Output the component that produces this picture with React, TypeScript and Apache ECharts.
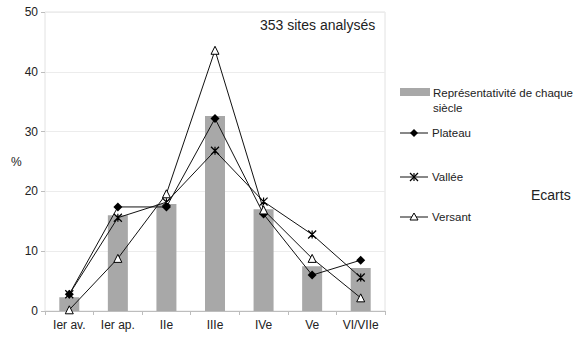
import React, { useEffect, useRef } from "react";
import * as echarts from "echarts";

const categories = ["Ier av.", "Ier ap.", "IIe", "IIIe", "IVe", "Ve", "VI/VIIe"];
const representativite = [2.3, 16.0, 17.9, 32.6, 17.0, 7.5, 7.2];
const plateau = [2.8, 17.4, 17.4, 32.2, 16.2, 6.0, 8.5];
const vallee = [2.8, 15.6, 18.2, 26.8, 18.3, 12.8, 5.6];
const versant = [0.2, 8.8, 19.6, 43.6, 16.9, 8.8, 2.2];
const yTicks = [0, 10, 20, 30, 40, 50];

const FONT = "'Liberation Sans', Arial, sans-serif";
const STAR = "path://M0,0 L10,10 M10,0 L0,10 M5,0 L5,10 M5,10 L5,0 M10,10 L0,0 M0,10 L10,0";

export default function App() {
  const ref = useRef<HTMLDivElement>(null);
  useEffect(() => {
    if (!ref.current) return;
    const chart = echarts.init(ref.current, null, { renderer: "svg" });
    const lineBase = {
      type: "line" as const,
      lineStyle: { color: "#111", width: 1 },
      z: 3,
    };
    const lx = 400;
    const legendText = (x: number, y: number, t: string) => ({
      type: "text", x, y,
      style: { text: t, fill: "#222", font: `11.5px ${FONT}`, verticalAlign: "middle" },
    });
    const legendLine = (y: number) => ({
      type: "line", shape: { x1: lx, y1: y, x2: lx + 28, y2: y },
      style: { stroke: "#111", lineWidth: 1 },
    });
    chart.setOption({
      animation: false,
      grid: { left: 45, right: 190, top: 12, bottom: 30, show: true, borderColor: "#e2e2e2", borderWidth: 1 },
      xAxis: {
        type: "category",
        data: categories,
        boundaryGap: true,
        axisLine: { lineStyle: { color: "#bdbdbd" } },
        axisTick: { show: true, length: 4, lineStyle: { color: "#bdbdbd" } },
        axisLabel: { color: "#222", fontSize: 12, fontFamily: FONT, margin: 8 },
      },
      yAxis: {
        type: "value",
        min: yTicks[0],
        max: yTicks[yTicks.length - 1],
        interval: 10,
        axisLine: { show: false },
        axisTick: { show: true, length: 4, lineStyle: { color: "#bdbdbd" } },
        axisLabel: { color: "#222", fontSize: 12, fontFamily: FONT, margin: 7 },
        splitLine: { lineStyle: { color: "#ececec" } },
      },
      series: [
        {
          name: "Représentativité de chaque siècle",
          type: "bar",
          data: representativite,
          barWidth: 20,
          itemStyle: { color: "#a8a8a8" },
          z: 2,
        },
        {
          ...lineBase,
          name: "Plateau",
          data: plateau,
          symbol: "diamond",
          symbolSize: 9,
          itemStyle: { color: "#000" },
        },
        {
          ...lineBase,
          name: "Vallée",
          data: vallee,
          symbol: STAR,
          symbolSize: 8,
          itemStyle: { color: "transparent", borderColor: "#000", borderWidth: 1.2 },
        },
        {
          ...lineBase,
          name: "Versant",
          data: versant,
          symbol: "triangle",
          symbolSize: 8,
          itemStyle: { color: "#fff", borderColor: "#000", borderWidth: 1 },
        },
      ],
      graphic: [
        { type: "text", x: 260, y: 25, style: { text: "353 sites analysés", fill: "#222", font: `14px ${FONT}`, verticalAlign: "middle" } },
        { type: "text", x: 11, y: 162, style: { text: "%", fill: "#222", font: `12px ${FONT}`, verticalAlign: "middle" } },
        { type: "text", x: 531, y: 195, style: { text: "Ecarts", fill: "#222", font: `14px ${FONT}`, verticalAlign: "middle" } },
        { type: "rect", shape: { x: lx, y: 88, width: 30, height: 8 }, style: { fill: "#a8a8a8" } },
        legendText(433, 93, "Représentativité de chaque"),
        legendText(433, 108, "siècle"),
        legendLine(133),
        { type: "polygon", shape: { points: [[lx + 14, 129], [lx + 18, 133], [lx + 14, 137], [lx + 10, 133]] }, style: { fill: "#000" } },
        legendText(432, 133, "Plateau"),
        legendLine(177),
        { type: "line", shape: { x1: lx + 10, y1: 173, x2: lx + 18, y2: 181 }, style: { stroke: "#000", lineWidth: 1.2 } },
        { type: "line", shape: { x1: lx + 18, y1: 173, x2: lx + 10, y2: 181 }, style: { stroke: "#000", lineWidth: 1.2 } },
        { type: "line", shape: { x1: lx + 14, y1: 173, x2: lx + 14, y2: 181 }, style: { stroke: "#000", lineWidth: 1.2 } },
        legendText(432, 177, "Vallée"),
        legendLine(217),
        { type: "polygon", shape: { points: [[lx + 14, 213], [lx + 18, 220], [lx + 10, 220]] }, style: { fill: "#fff", stroke: "#000", lineWidth: 1 } },
        legendText(432, 217, "Versant"),
      ],
    });
    return () => chart.dispose();
  }, []);
  return <div ref={ref} style={{ width: 575, height: 341, position: "absolute", left: 0, top: 0, background: "#fff" }} />;
}
